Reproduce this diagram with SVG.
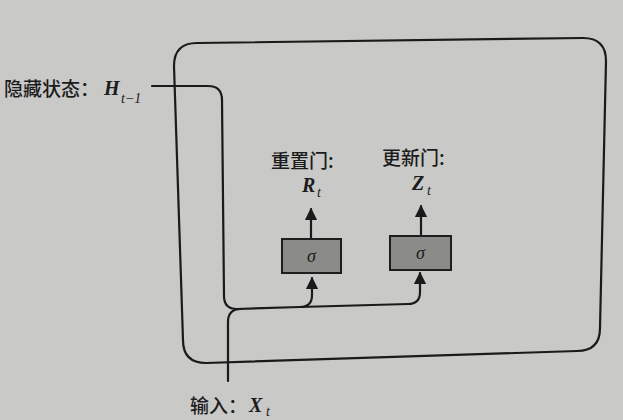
<svg xmlns="http://www.w3.org/2000/svg" width="623" height="420" viewBox="0 0 623 420">
<style>
.ln{fill:none;stroke:#1a1a1a;stroke-width:2.2;stroke-linecap:round;stroke-linejoin:round}
.box{fill:#8b8b89;stroke:#1e1e1e;stroke-width:2}
.cn{font-family:"Noto Sans CJK SC","Noto Sans",sans-serif;font-size:19px;font-weight:500;fill:#1c1c1c}
.m{font-family:"Liberation Serif",serif;font-style:italic;font-weight:bold;font-size:20px;fill:#1c1c1c}
.s{font-family:"Liberation Serif",serif;font-style:italic;font-size:14px;fill:#1c1c1c}
.sg{font-family:"Liberation Serif",serif;font-style:italic;font-size:18px;fill:#1c1c1c}
</style>
<defs>
<marker id="ah" viewBox="0 0 10 10" refX="9" refY="5" markerWidth="5.5" markerHeight="5.5" orient="auto" markerUnits="strokeWidth">
<path d="M0,0 L10,5 L0,10 Z" fill="#1a1a1a"/>
</marker>
</defs>
<rect x="0" y="0" width="623" height="420" fill="#c9c9c7"/>
<g id="cell">
<path class="ln" d="M174,66 Q174,43 197,43 L583,38 Q606,38 606,61 L600,328 Q600,351 577,351 L206,363 Q183,363 183,340 Z"/>
</g>
<g id="connectors">
<path class="ln" d="M152,86 L208,86 Q222,86 222,100 L224,296 Q224,309 237,309"/>
<path class="ln" d="M228,381 L228,322 Q228,309 241,309"/>
<path class="ln" d="M237,309 L300,307 Q312,307 312,295 L312,278" marker-end="url(#ah)"/>
<path class="ln" d="M300,307 L408,304 Q420,304 420,292 L420,273" marker-end="url(#ah)"/>
<path class="ln" d="M311,239 L311,209" marker-end="url(#ah)"/>
<path class="ln" d="M421,236 L421,206" marker-end="url(#ah)"/>
</g>
<g id="reset-gate">
<rect class="box" x="282" y="239" width="59" height="34"/>
<text class="sg" x="311.5" y="262" text-anchor="middle">σ</text>
<text class="cn" x="271" y="168">重置门:</text>
<text class="m" x="302" y="192">R</text><text class="s" x="317" y="197">t</text>
</g>
<g id="update-gate">
<rect class="box" x="390" y="236" width="61" height="34"/>
<text class="sg" x="420.5" y="259" text-anchor="middle">σ</text>
<text class="cn" x="382" y="165">更新门:</text>
<text class="m" x="412" y="190">Z</text><text class="s" x="427" y="195">t</text>
</g>
<g id="hidden-state">
<text class="cn" x="4" y="96">隐藏状态：</text>
<text class="m" x="104" y="95">H</text><text class="s" x="121" y="103">t−1</text>
</g>
<g id="input">
<text class="cn" x="190" y="413">输入：</text>
<text class="m" x="249" y="412">X</text><text class="s" x="266" y="416">t</text>
</g>
</svg>
